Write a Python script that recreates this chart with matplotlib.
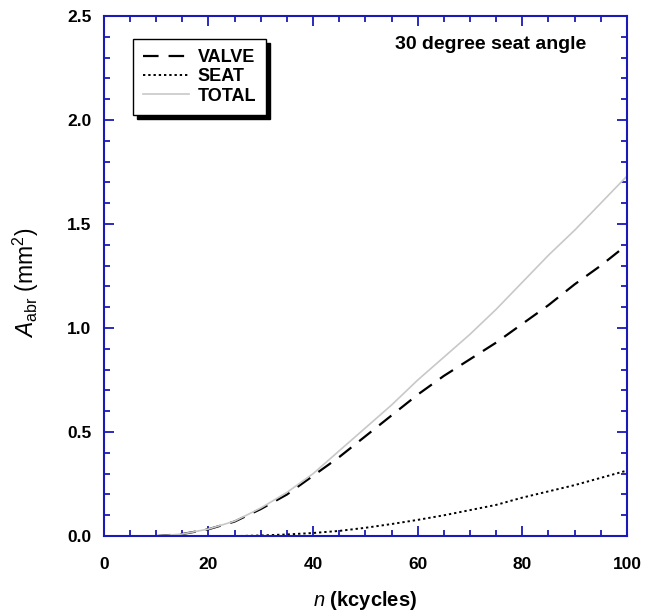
import matplotlib
matplotlib.use("Agg")
import matplotlib.pyplot as plt
from matplotlib.ticker import MultipleLocator

plt.rcParams["font.family"] = ["Liberation Sans", "DejaVu Sans"]
plt.rcParams["mathtext.fontset"] = "custom"
plt.rcParams["mathtext.rm"] = "Liberation Sans"
plt.rcParams["mathtext.it"] = "Liberation Sans:italic"
plt.rcParams["mathtext.bf"] = "Liberation Sans:bold"

# wear data (kcycles vs abraded area in mm^2)
n = [0, 5, 10, 15, 20, 25, 30, 35, 40, 45, 50, 55, 60, 65, 70, 75, 80, 85, 90, 95, 100]
valve = [0, 0, 0, 0.01, 0.033, 0.07, 0.13, 0.20, 0.29, 0.38, 0.48, 0.58, 0.68,
         0.77, 0.85, 0.93, 1.02, 1.11, 1.21, 1.30, 1.40]
seat = [0, 0, 0, 0, 0, 0, 0.003, 0.008, 0.015, 0.025, 0.04, 0.058, 0.078,
        0.10, 0.125, 0.15, 0.185, 0.215, 0.245, 0.28, 0.315]
total = [0, 0, 0, 0.01, 0.034, 0.072, 0.135, 0.21, 0.30, 0.41, 0.52, 0.63, 0.75,
         0.86, 0.97, 1.09, 1.22, 1.35, 1.47, 1.60, 1.73]

blue = "#1a1ab8"

fig = plt.figure(figsize=(6.45, 6.12), dpi=100)
ax = fig.add_axes([0.161, 0.124, 0.811, 0.850])

ax.plot(n, valve, color="black", linestyle=(0, (7, 4.5)), linewidth=1.6, label="VALVE")
ax.plot(n, seat, color="black", linestyle=(0, (1.2, 1.5)), linewidth=1.4, label="SEAT")
ax.plot(n, total, color="#c8c8c8", linestyle="-", linewidth=1.2, label="TOTAL")

ax.set_xlim(0, 100)
ax.set_ylim(0, 2.5)
ax.xaxis.set_major_locator(MultipleLocator(20))
ax.xaxis.set_minor_locator(MultipleLocator(5))
ax.yaxis.set_major_locator(MultipleLocator(0.5))
ax.yaxis.set_minor_locator(MultipleLocator(0.1))
ax.yaxis.set_major_formatter(plt.FormatStrFormatter("%.1f"))

for s in ax.spines.values():
    s.set_color(blue)
    s.set_linewidth(1.5)
ax.tick_params(which="both", direction="in", top=True, right=True, color=blue,
               width=1.3, labelsize=12.5)
ax.tick_params(axis="x", pad=15)
ax.tick_params(axis="y", pad=9)
ax.tick_params(which="major", length=7)
ax.tick_params(which="minor", length=4)
for lab in ax.get_xticklabels() + ax.get_yticklabels():
    lab.set_fontweight("bold")

ax.set_xlabel(r"$\mathit{n}$ (kcycles)", fontsize=14.5, fontweight="bold", labelpad=12)
ax.set_ylabel(r"$\mathit{A}_{\mathrm{abr}}$ (mm$^2$)", fontsize=16.5)
ax.yaxis.set_label_coords(-0.12, 0.487)

ax.text(0.923, 0.962, "30 degree seat angle", transform=ax.transAxes,
        ha="right", va="top", fontsize=14, fontweight="bold")

leg = ax.legend(loc="upper left", bbox_to_anchor=(0.055, 0.955), fancybox=False,
                shadow={"color": "black", "alpha": 1.0, "ox": 3, "oy": -3},
                framealpha=1, edgecolor="black",
                prop={"weight": "bold", "size": 13}, handlelength=2.6,
                handletextpad=0.45, labelspacing=0.12, borderpad=0.55,
                borderaxespad=0)
leg.get_frame().set_linewidth(1.0)

fig.savefig("out.png", dpi=100)
